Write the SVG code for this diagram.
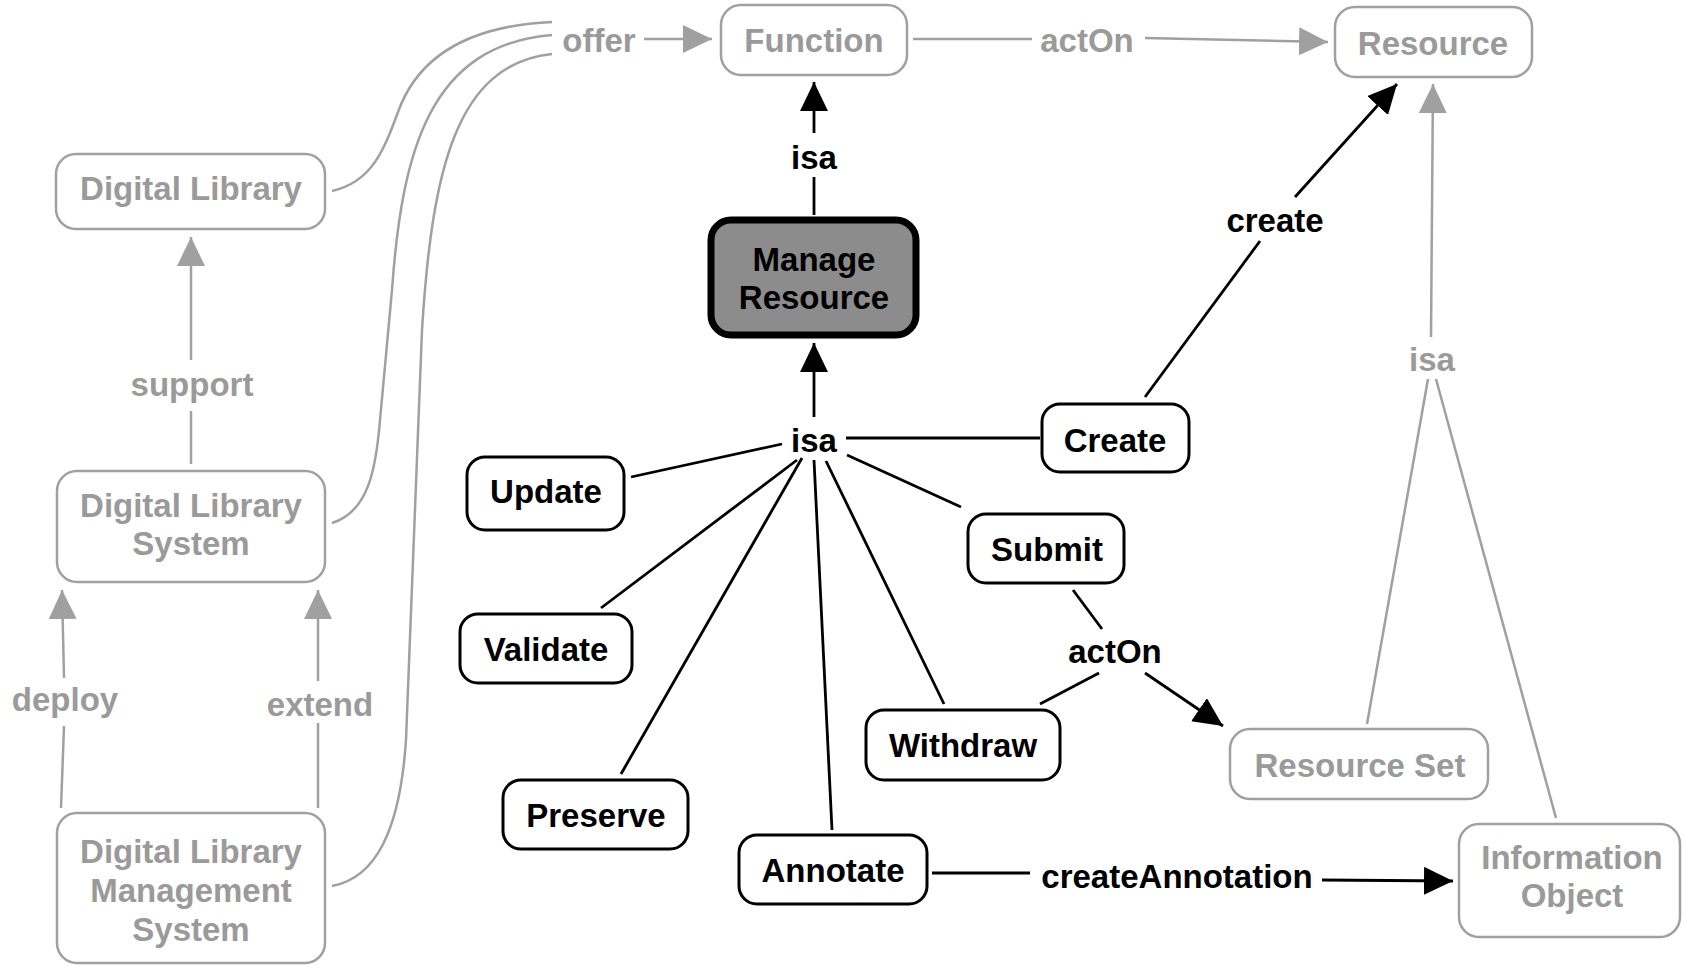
<svg xmlns="http://www.w3.org/2000/svg" width="1682" height="966" viewBox="0 0 1682 966">
<defs>
<style>
.t{font-family:"Liberation Sans",Arial,sans-serif;font-weight:bold;font-size:33px;text-anchor:middle}
.g{fill:#9a9a9a}
.k{fill:#000}
.gbox{fill:#fff;stroke:#a0a0a0;stroke-width:2.5}
.kbox{fill:#fff;stroke:#000;stroke-width:3}
.gl{fill:none;stroke:#a0a0a0;stroke-width:2.5}
.kl{fill:none;stroke:#000;stroke-width:2.8}
.ga{marker-end:url(#ag)}
.ka{marker-end:url(#ak)}
</style>
<marker id="ag" markerUnits="userSpaceOnUse" markerWidth="30" markerHeight="30" refX="29" refY="14" orient="auto"><path d="M0,0 L29,14 L0,28 z" fill="#a0a0a0"/></marker>
<marker id="ak" markerUnits="userSpaceOnUse" markerWidth="30" markerHeight="30" refX="29" refY="14" orient="auto"><path d="M0,0 L29,14 L0,28 z" fill="#000"/></marker>
</defs>
<rect width="1682" height="966" fill="#fff"/>
<g id="connectors">
<path class="gl" d="M332,191 C372,182 384,150 398,112 C416,62 460,26 552,22"/>
<path class="gl" d="M332,523 C368,512 376,470 380,420 L392,290 C402,150 430,45 552,35"/>
<path class="gl" d="M332,886 C376,878 400,830 406,740 L422,330 C432,170 456,64 552,54"/>
<line class="gl ga" x1="644" y1="39" x2="712" y2="39"/>
<line class="gl" x1="913" y1="39" x2="1032" y2="39"/>
<line class="gl ga" x1="1145" y1="38" x2="1328" y2="42"/>
<line class="gl ga" x1="191" y1="360" x2="191" y2="237"/>
<line class="gl" x1="191" y1="411" x2="191" y2="464"/>
<line class="gl ga" x1="64" y1="678" x2="62" y2="590"/>
<line class="gl" x1="61" y1="808" x2="64" y2="726"/>
<line class="gl ga" x1="318" y1="681" x2="318" y2="590"/>
<line class="gl" x1="318" y1="808" x2="318" y2="723"/>
<line class="gl ga" x1="1431" y1="337" x2="1433" y2="84"/>
<line class="gl" x1="1428" y1="379" x2="1367" y2="724"/>
<line class="gl" x1="1436" y1="379" x2="1556" y2="818"/>
<line class="kl ka" x1="814" y1="133" x2="814" y2="82"/>
<line class="kl" x1="814" y1="215" x2="814" y2="177"/>
<line class="kl ka" x1="814" y1="417" x2="814" y2="343"/>
<line class="kl" x1="846" y1="438" x2="1040" y2="438"/>
<line class="kl" x1="631" y1="477" x2="782" y2="444"/>
<line class="kl" x1="601" y1="608" x2="797" y2="460"/>
<line class="kl" x1="621" y1="774" x2="802" y2="458"/>
<line class="kl" x1="832" y1="830" x2="814" y2="460"/>
<line class="kl" x1="944" y1="704" x2="826" y2="461"/>
<line class="kl" x1="961" y1="507" x2="847" y2="455"/>
<line class="kl" x1="1145" y1="397" x2="1260" y2="241"/>
<line class="kl ka" x1="1295" y1="197" x2="1397" y2="84"/>
<line class="kl" x1="1073" y1="590" x2="1102" y2="629"/>
<line class="kl" x1="1040" y1="704" x2="1099" y2="673"/>
<line class="kl ka" x1="1145" y1="673" x2="1223" y2="726"/>
<line class="kl" x1="932" y1="873" x2="1030" y2="873"/>
<line class="kl ka" x1="1322" y1="880" x2="1453" y2="881"/>
</g>
<g id="labels">
<text class="t g" x="599" y="52">offer</text>
<text class="t g" x="1087" y="52">actOn</text>
<text class="t g" x="192" y="396">support</text>
<text class="t g" x="65" y="711">deploy</text>
<text class="t g" x="320" y="716">extend</text>
<text class="t g" x="1432" y="371">isa</text>
<text class="t k" x="814" y="169">isa</text>
<text class="t k" x="814" y="452">isa</text>
<text class="t k" x="1275" y="232">create</text>
<text class="t k" x="1115" y="663">actOn</text>
<text class="t k" x="1177" y="888">createAnnotation</text>
</g>
<g id="node-function"><rect class="gbox" x="721" y="5" width="186" height="70" rx="20"/><text class="t g" x="814" y="52">Function</text></g>
<g id="node-resource"><rect class="gbox" x="1335" y="7" width="197" height="70" rx="20"/><text class="t g" x="1433" y="55">Resource</text></g>
<g id="node-digital-library"><rect class="gbox" x="56" y="154" width="269" height="75" rx="20"/><text class="t g" x="191" y="200">Digital Library</text></g>
<g id="node-dls"><rect class="gbox" x="57" y="471" width="268" height="111" rx="20"/><text class="t g" x="191" y="517">Digital Library</text><text class="t g" x="191" y="555">System</text></g>
<g id="node-dlms"><rect class="gbox" x="57" y="813" width="268" height="150" rx="20"/><text class="t g" x="191" y="863">Digital Library</text><text class="t g" x="191" y="902">Management</text><text class="t g" x="191" y="941">System</text></g>
<g id="node-resource-set"><rect class="gbox" x="1230" y="729" width="258" height="70" rx="20"/><text class="t g" x="1360" y="777">Resource Set</text></g>
<g id="node-information-object"><rect class="gbox" x="1459" y="824" width="221" height="113" rx="20"/><text class="t g" x="1572" y="869">Information</text><text class="t g" x="1572" y="907">Object</text></g>
<g id="node-manage-resource"><rect x="711" y="220" width="205" height="115" rx="20" fill="#8c8c8c" stroke="#000" stroke-width="7"/><text class="t k" x="814" y="271">Manage</text><text class="t k" x="814" y="309">Resource</text></g>
<g id="node-create"><rect class="kbox" x="1042" y="404" width="147" height="68" rx="18"/><text class="t k" x="1115" y="452">Create</text></g>
<g id="node-update"><rect class="kbox" x="467" y="457" width="157" height="73" rx="18"/><text class="t k" x="546" y="503">Update</text></g>
<g id="node-validate"><rect class="kbox" x="460" y="614" width="172" height="69" rx="18"/><text class="t k" x="546" y="661">Validate</text></g>
<g id="node-preserve"><rect class="kbox" x="503" y="780" width="185" height="69" rx="18"/><text class="t k" x="596" y="827">Preserve</text></g>
<g id="node-annotate"><rect class="kbox" x="739" y="835" width="188" height="69" rx="18"/><text class="t k" x="833" y="882">Annotate</text></g>
<g id="node-withdraw"><rect class="kbox" x="866" y="710" width="194" height="70" rx="18"/><text class="t k" x="963" y="757">Withdraw</text></g>
<g id="node-submit"><rect class="kbox" x="968" y="514" width="156" height="69" rx="18"/><text class="t k" x="1047" y="561">Submit</text></g>
</svg>
